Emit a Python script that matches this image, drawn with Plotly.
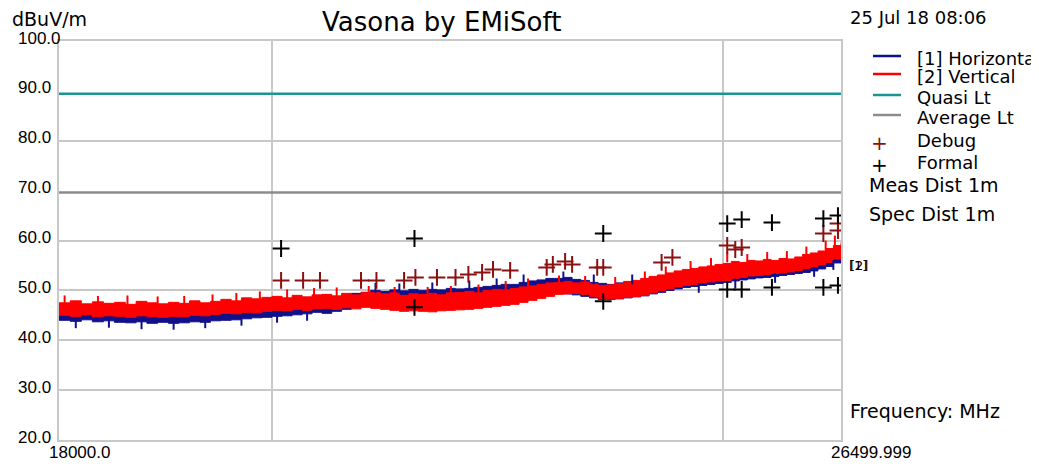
import numpy as np
import plotly.graph_objects as go

# sweep frequencies (MHz), one reading every 100 MHz
freq_mhz = [18000, 18100, 18200, 18300, 18400, 18500, 18600, 18700, 18800, 18900,
            19000, 19100, 19200, 19300, 19400, 19500, 19600, 19700, 19800, 19900,
            20000, 20100, 20200, 20300, 20400, 20500, 20600, 20700, 20800, 20900,
            21000, 21100, 21200, 21300, 21400, 21500, 21600, 21700, 21800, 21900,
            22000, 22100, 22200, 22300, 22400, 22500, 22600, 22700, 22800, 22900,
            23000, 23100, 23200, 23300, 23400, 23500, 23600, 23700, 23800, 23900,
            24000, 24100, 24200, 24300, 24400, 24500, 24600, 24700, 24800, 24900,
            25000, 25100, 25200, 25300, 25400, 25500, 25600, 25700, 25800, 25900,
            26000, 26100, 26200, 26300, 26400, 26499.999]

# [2] Vertical trace: upper / lower edge of the noise band (dBuV/m)
vert_hi = [47.5, 47.9, 47.3, 47.7, 47.4, 47.6, 47.2, 47.8, 47.5, 47.3,
           47.6, 47.4, 47.9, 47.5, 47.8, 48.2, 47.9, 48.5, 48.3, 48.6,
           48.8, 48.5, 49.0, 48.7, 49.1, 49.2, 48.9, 49.4, 49.1, 49.6,
           49.6, 49.3, 49.5, 49.0, 49.3, 49.2, 49.4, 49.1, 49.5, 49.6,
           49.8, 49.5, 50.0, 50.2, 50.1, 50.4, 50.7, 50.9, 51.2, 51.5,
           51.6, 51.8, 51.5, 51.7, 51.3, 51.0, 51.1, 51.4, 51.8, 52.0,
           52.4, 52.8, 53.1, 53.5, 53.9, 54.2, 54.4, 54.7, 54.9, 55.2,
           55.4, 55.8, 55.6, 56.0, 55.9, 56.2, 56.0, 56.4, 56.3, 56.7,
           57.2, 57.5, 57.9, 58.4, 59.0, 59.6]
vert_lo = [45.0, 44.8, 45.1, 44.7, 44.9, 44.8, 44.6, 44.9, 44.7, 44.6,
           44.8, 44.7, 45.0, 44.9, 45.2, 45.4, 45.3, 45.6, 45.5, 45.8,
           46.0, 45.9, 46.2, 46.0, 46.3, 46.4, 46.2, 46.5, 46.3, 46.6,
           46.4, 46.2, 46.0, 45.8, 45.9, 45.8, 45.7, 45.9, 46.0, 46.1,
           46.2, 46.4, 46.6, 46.8, 47.0, 47.2, 47.6, 48.0, 48.4, 48.8,
           49.2, 49.3, 49.4, 49.2, 48.8, 48.4, 48.3, 48.4, 48.6, 48.8,
           49.0, 49.5, 49.9, 50.3, 50.7, 51.0, 51.2, 51.5, 51.7, 51.9,
           52.0, 52.4, 52.6, 52.9, 53.0, 53.2, 53.4, 53.5, 53.7, 54.0,
           54.4, 54.7, 55.1, 55.6, 56.3, 57.0]

# [1] Horizontal trace
horiz_hi = [46.4, 46.2, 46.5, 46.0, 46.3, 46.0, 45.8, 46.1, 45.9, 46.0,
            45.9, 46.0, 46.2, 46.1, 46.4, 46.6, 46.5, 46.9, 46.8, 47.1,
            47.4, 47.3, 47.6, 47.5, 47.8, 48.2, 48.6, 49.0, 49.4, 49.6,
            50.0, 49.8, 50.1, 49.9, 50.2, 50.0, 50.2, 50.1, 50.4, 50.3,
            50.4, 50.6, 50.8, 51.0, 51.2, 51.2, 51.6, 51.9, 52.1, 52.4,
            52.4, 52.6, 52.2, 52.0, 51.6, 51.4, 51.2, 51.5, 51.7, 51.8,
            52.0, 52.5, 52.9, 53.2, 53.4, 53.8, 54.0, 54.2, 54.4, 54.6,
            54.9, 55.1, 55.2, 55.4, 55.5, 55.6, 55.7, 55.9, 56.1, 56.3,
            56.6, 56.9, 57.3, 57.8, 58.4, 59.0]
horiz_lo = [44.0, 43.8, 44.1, 43.7, 43.9, 43.6, 43.5, 43.7, 43.4, 43.6,
            43.4, 43.5, 43.7, 43.6, 43.9, 44.0, 44.1, 44.3, 44.5, 44.6,
            44.8, 44.9, 45.1, 45.3, 45.6, 45.4, 45.8, 46.2, 46.6, 46.8,
            47.0, 47.1, 47.2, 47.3, 47.2, 47.4, 47.3, 47.5, 47.4, 47.6,
            47.6, 47.8, 47.9, 48.0, 48.1, 48.2, 48.5, 48.8, 49.1, 49.3,
            49.4, 49.3, 49.1, 48.8, 48.5, 48.2, 48.2, 48.3, 48.5, 48.7,
            48.9, 49.3, 49.6, 50.0, 50.3, 50.6, 50.8, 51.0, 51.2, 51.4,
            51.6, 51.9, 52.1, 52.3, 52.5, 52.6, 52.8, 53.0, 53.2, 53.4,
            53.6, 53.9, 54.3, 54.8, 55.5, 56.4]

# isolated noise spikes sticking out of the bands (centre of each spike)
vert_spike_freq = [18050, 18350, 18620, 18900, 19150, 19420, 19650, 19880, 20150, 20420,
                   20650, 20980, 21250, 21600, 21850, 22150, 22450, 22700, 23050, 23350,
                   23700, 24050, 24300, 24600, 24850, 25050, 25300, 25550, 25800, 26050,
                   26300, 26420]
vert_spike_level = [48.0, 47.9, 48.0, 47.8, 47.9, 48.2, 48.5, 48.8, 49.2, 49.5,
                    49.6, 49.9, 49.7, 49.7, 49.9, 50.2, 50.9, 51.4, 52.0, 51.9,
                    51.7, 52.8, 53.8, 54.9, 55.5, 56.6, 56.3, 56.7, 56.9, 57.8,
                    59.0, 60.0]
horiz_spike_freq = [18150, 18450, 18750, 19050, 19350, 19700, 20050, 20350, 21050, 21300,
                    21650, 22050, 22350, 22650, 23100, 23450, 23900, 24700, 25150, 25650,
                    26150, 26400]
horiz_spike_level = [43.4, 43.5, 43.2, 43.1, 43.4, 43.9, 44.5, 44.9, 50.5, 50.4,
                     50.6, 51.0, 51.4, 52.2, 52.8, 52.2, 52.2, 50.5, 51.4, 52.5,
                     53.7, 55.1]

debug_freq = [20090, 20310, 20480, 20900, 21060, 21350, 21470, 21700, 21900, 22040,
              22190, 22310, 22500, 22910, 22980, 23120, 23200, 23490, 23560, 24250,
              24380, 25050, 25150, 25230, 26270, 26460, 26460]
debug_level = [52.0, 52.0, 52.0, 52.0, 52.0, 52.0, 52.6, 52.6, 52.6, 53.2,
               53.6, 54.2, 54.0, 54.6, 55.2, 55.8, 55.2, 54.6, 54.6, 55.6,
               56.6, 59.0, 58.2, 58.6, 61.4, 62.0, 63.4]

formal_freq = [20090, 21460, 21460, 23560, 23560, 25050, 25230, 25610, 26270, 26460,
               25050, 25230, 25610, 26270, 26460]
formal_level = [58.4, 60.4, 46.6, 61.4, 47.8, 63.4, 64.2, 63.6, 64.4, 65.0,
                50.2, 50.2, 50.6, 50.6, 51.0]

quasi_limit = 89.4
average_limit = 69.6

y_ticks = [20, 30, 40, 50, 60, 70, 80, 90, 100]
y_tick_text = ["20.0", "30.0", "40.0", "50.0", "60.0", "70.0", "80.0", "90.0", "100.0"]
y_grid = [20, 30, 40, 50, 60, 80, 100]
x_grid = [20000, 25000]
x_edge_vals = [18000.0, 26499.999]
x_edge_text = ["18000.0", "26499.999"]

legend_names = ["[1] Horizontal", "[2] Vertical", "Quasi Lt", "Average Lt", "Debug", "Formal"]
legend_colors = ["#10108a", "#ff0000", "#1a9494", "#8c8c8c", "#8b1010", "#000000"]

NAVY = "#10108a"
RED = "#ff0000"
GRID = "#c8c8c8"
FONT = "DejaVu Sans"

# the page body keeps its 8px margin, so the figure is drawn 8px smaller
OFF = 8

# plot area in window pixels: x 59..841, y 41..440
def px(x):
    return (x - 59) / 782.0

def py(y):
    return (440 - y) / 399.0

fig = go.Figure()

for lo, hi, col in [(horiz_lo, horiz_hi, NAVY), (vert_lo, vert_hi, RED)]:
    fig.add_trace(go.Scatter(x=freq_mhz, y=lo, mode="lines", line=dict(color=col, width=1, shape="hv"),
                             showlegend=False, hoverinfo="skip"))
    fig.add_trace(go.Scatter(x=freq_mhz, y=hi, mode="lines", line=dict(color=col, width=1, shape="hv"),
                             fill="tonexty", fillcolor=col, showlegend=False))

fig.add_trace(go.Scatter(x=horiz_spike_freq, y=horiz_spike_level, mode="markers", showlegend=False,
                         marker=dict(symbol="line-ns", size=7, line=dict(color=NAVY, width=2))))
fig.add_trace(go.Scatter(x=vert_spike_freq, y=vert_spike_level, mode="markers", showlegend=False,
                         marker=dict(symbol="line-ns", size=7, line=dict(color=RED, width=2))))

fig.add_trace(go.Scatter(x=x_edge_vals, y=[quasi_limit, quasi_limit], mode="lines",
                         line=dict(color="#1a9494", width=2.5), showlegend=False))
fig.add_trace(go.Scatter(x=x_edge_vals, y=[average_limit, average_limit], mode="lines",
                         line=dict(color="#8c8c8c", width=2.5), showlegend=False))

fig.add_trace(go.Scatter(x=debug_freq, y=debug_level, mode="markers", showlegend=False,
                         marker=dict(symbol="cross-thin", size=12, line=dict(color="#8b1010", width=2))))
fig.add_trace(go.Scatter(x=formal_freq, y=formal_level, mode="markers", showlegend=False,
                         marker=dict(symbol="cross-thin", size=12, line=dict(color="#000000", width=2))))

ann = []
# y tick labels, left aligned like the original
for v, t in zip(y_ticks, y_tick_text):
    ann.append(dict(x=px(16), xref="paper", y=v, yref="y", text=t, showarrow=False,
                    xanchor="left", yanchor="middle", yshift=3,
                    font=dict(family="Liberation Sans", size=17, color="black")))
for v, t in zip(x_edge_vals, x_edge_text):
    ann.append(dict(x=np.log10(v), xref="x", y=py(452), yref="paper", text=t, showarrow=False,
                    xanchor="left", yanchor="middle", xshift=-12,
                    font=dict(family="Liberation Sans", size=17, color="black")))

ann.append(dict(x=px(441), xref="paper", y=py(22), yref="paper", text="Vasona by EMiSoft",
                showarrow=False, xanchor="center", yanchor="middle",
                font=dict(family=FONT, size=26, color="black")))
ann.append(dict(x=px(10), xref="paper", y=py(19), yref="paper", text="dBuV/m", showarrow=False,
                xanchor="left", yanchor="middle", font=dict(family=FONT, size=19, color="black")))
ann.append(dict(x=px(848), xref="paper", y=py(17), yref="paper", text="25 Jul 18 08:06",
                showarrow=False, xanchor="left", yanchor="middle",
                font=dict(family=FONT, size=18, color="black")))

# hand-built legend
shapes = []
leg_y = [58, 76, 97, 117, 140, 162]
for i, (name, col) in enumerate(zip(legend_names, legend_colors)):
    if i < 4:
        shapes.append(dict(type="line", xref="paper", yref="paper", x0=px(873), x1=px(901),
                           y0=py(leg_y[i] - 2), y1=py(leg_y[i] - 2), line=dict(color=col, width=2.5)))
    else:
        ann.append(dict(x=px(879), xref="paper", y=py(leg_y[i] + 3), yref="paper", text="+",
                        showarrow=False, xanchor="center", yanchor="middle",
                        font=dict(family=FONT, size=20, color=col)))
    ann.append(dict(x=px(915), xref="paper", y=py(leg_y[i]), yref="paper", text=name,
                    showarrow=False, xanchor="left", yanchor="middle",
                    font=dict(family=FONT, size=18, color="black")))

for t, y in [("Meas Dist 1m", 185), ("Spec Dist 1m", 214)]:
    ann.append(dict(x=px(867), xref="paper", y=py(y), yref="paper", text=t, showarrow=False,
                    xanchor="left", yanchor="middle", font=dict(family=FONT, size=19, color="black")))
ann.append(dict(x=px(848), xref="paper", y=py(411), yref="paper", text="Frequency: MHz",
                showarrow=False, xanchor="left", yanchor="middle",
                font=dict(family=FONT, size=19, color="black")))
ann.append(dict(x=px(847), xref="paper", y=py(265), yref="paper", text="[1]", showarrow=False,
                xanchor="left", yanchor="middle", font=dict(family=FONT, size=13, color="black")))
ann.append(dict(x=px(848), xref="paper", y=py(265), yref="paper", text="[2]", showarrow=False,
                xanchor="left", yanchor="middle", font=dict(family=FONT, size=13, color="black")))

fig.update_layout(
    width=1039 - OFF, height=466 - OFF,
    margin=dict(l=59 - OFF, r=1039 - 841, t=41 - OFF, b=466 - 440),
    paper_bgcolor="white", plot_bgcolor="white",
    showlegend=False,
    annotations=ann, shapes=shapes,
)
fig.update_xaxes(type="log", range=[np.log10(18000), np.log10(26499.999)],
                 tickvals=x_grid, showticklabels=False, showgrid=True, gridcolor=GRID, gridwidth=2,
                 showline=True, mirror=True, linecolor=GRID, linewidth=2, zeroline=False, ticks="")
fig.update_yaxes(range=[20, 100], tickvals=y_grid, showticklabels=False, showgrid=True,
                 gridcolor=GRID, gridwidth=2, showline=True, mirror=True, linecolor=GRID,
                 linewidth=2, zeroline=False, ticks="")

fig.write_html("out.html")
